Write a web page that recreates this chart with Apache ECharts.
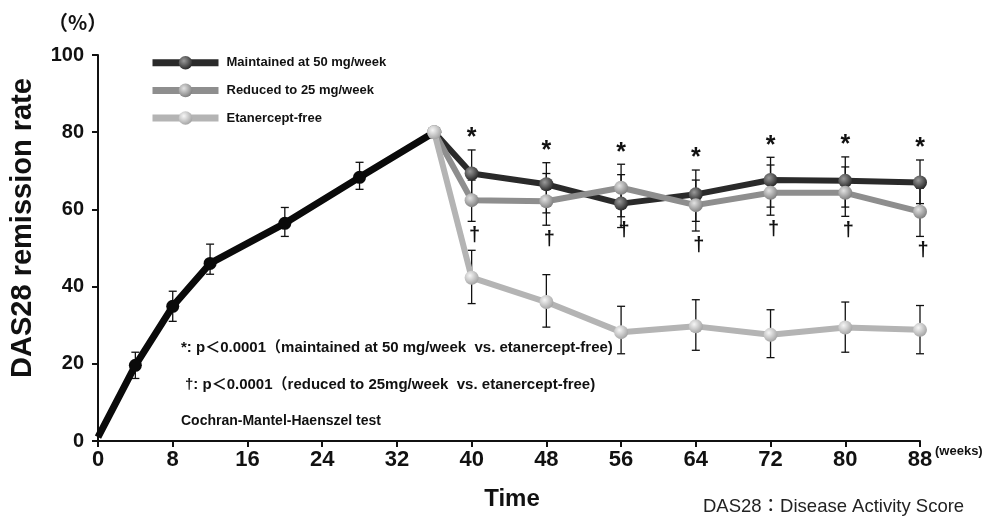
<!DOCTYPE html>
<html>
<head>
<meta charset="UTF-8">
<title>DAS28 remission rate</title>
<script src="https://cdn.jsdelivr.net/npm/echarts@6/dist/echarts.min.js"></script>
<style>
  html, body { margin: 0; padding: 0; background: #fff; }
  #chart { width: 992px; height: 517px; }
</style>
</head>
<body>
<div id="chart"></div>
<script>
// run-in phase (all patients on 50 mg/week)
var baseWeeks = [0, 4, 8, 12, 20, 28, 36];
var baseRate  = [1, 19.6, 34.9, 46, 56.4, 68.3, 80];
var baseLow   = [null, 16.2, 31, 43.2, 53, 65.2, null];
var baseHigh  = [null, 23, 38.8, 51, 60.5, 72.2, null];

// randomised phase
var weeks = [36, 40, 48, 56, 64, 72, 80, 88];
var maintained     = [80, 69.3, 66.5, 61.5, 63.9, 67.6, 67.4, 67];
var maintainedLow  = [null, 63.5, 59.1, 55.3, 56.9, 60.6, 60.6, 61.5];
var maintainedHigh = [null, 75.4, 72.1, 69.0, 70.2, 73.5, 73.6, 72.8];
var reduced        = [80, 62.4, 62.1, 65.6, 61.1, 64.3, 64.3, 59.4];
var reducedLow     = [null, 56.9, 55.9, 58.1, 54.4, 58.5, 58.2, 53];
var reducedHigh    = [null, 67.6, 69.3, 71.7, 67.6, 71.5, 71.0, 65.5];
var etaFree        = [80, 42.3, 36, 28.2, 29.7, 27.5, 29.4, 28.8];
var etaFreeLow     = [null, 35.6, 29.5, 22.6, 23.5, 21.6, 23, 22.6];
var etaFreeHigh    = [null, 49.4, 43.1, 34.9, 36.6, 34, 36, 35.1];

var seriesNames = ['Maintained at 50 mg/week', 'Reduced to 25 mg/week', 'Etanercept-free'];
var xTicks = [0, 8, 16, 24, 32, 40, 48, 56, 64, 72, 80, 88];
var yTicks = [0, 20, 40, 60, 80, 100];

var SANS = "'Liberation Sans', Arial, sans-serif";
var MIXED = "'Liberation Sans', 'Noto Sans CJK JP', sans-serif";

function pairs(xs, ys) {
  return xs.map(function (x, i) { return [x, ys[i]]; });
}
function errData(xs, lo, hi) {
  var out = [];
  xs.forEach(function (x, i) {
    if (lo[i] != null && hi[i] != null) out.push([x, lo[i], hi[i]]);
  });
  return out;
}
function sphere(light, dark) {
  return {
    type: 'radial', x: 0.38, y: 0.35, r: 0.7,
    colorStops: [{ offset: 0, color: light }, { offset: 1, color: dark }]
  };
}

var allErr = errData(baseWeeks, baseLow, baseHigh)
  .concat(errData(weeks, maintainedLow, maintainedHigh))
  .concat(errData(weeks, reducedLow, reducedHigh))
  .concat(errData(weeks, etaFreeLow, etaFreeHigh));

// significance marks: * above the top bar, dagger under the reduced bar
var starData = [], daggerData = [];
for (var i = 1; i < weeks.length; i++) {
  starData.push([weeks[i], Math.max(maintainedHigh[i], reducedHigh[i])]);
  daggerData.push([weeks[i], reducedLow[i]]);
}

// week 0 has no marker, the line just starts there
var baseData = pairs(baseWeeks, baseRate).map(function (p, i) {
  return i === 0 ? { value: p, symbol: 'none' } : p;
});

var chart = echarts.init(document.getElementById('chart'));

chart.setOption({
  animation: false,
  grid: { left: 98, right: 72, top: 55, bottom: 76 },
  legend: {
    data: seriesNames,
    orient: 'vertical',
    left: 149, top: 56, padding: 0,
    itemWidth: 66, itemHeight: 17, itemGap: 14,
    lineStyle: { width: 7 },
    textStyle: { fontFamily: SANS, fontWeight: 'bold', fontSize: 13, color: '#111', padding: [0, 0, 0, 3] }
  },
  xAxis: {
    type: 'value', min: 0, max: 88, interval: 8,
    splitLine: { show: false },
    axisLine: { lineStyle: { color: '#111', width: 2 } },
    axisTick: { length: 6, lineStyle: { color: '#111', width: 2 } },
    axisLabel: { margin: 8, color: '#111', fontFamily: SANS, fontWeight: 'bold', fontSize: 22,
      formatter: function (v) { return xTicks.indexOf(v) >= 0 ? String(v) : ''; } }
  },
  yAxis: {
    type: 'value', min: 0, max: 100, interval: 20,
    splitLine: { show: false },
    axisLine: { show: true, lineStyle: { color: '#111', width: 2 } },
    axisTick: { show: true, length: 6, lineStyle: { color: '#111', width: 2 } },
    axisLabel: { margin: 14, color: '#111', fontFamily: SANS, fontWeight: 'bold', fontSize: 20,
      formatter: function (v) { return yTicks.indexOf(v) >= 0 ? String(v) : ''; } }
  },
  graphic: [
    { type: 'text', left: 48, top: 12, style: { text: '（%）', font: "bold 20px 'Noto Sans CJK JP', sans-serif", fill: '#111' } },
    { type: 'text', x: 23, y: 228, rotation: Math.PI / 2,
      style: { text: 'DAS28 remission rate', font: 'bold 29px ' + SANS, fill: '#111', align: 'center', verticalAlign: 'middle' } },
    { type: 'text', x: 512, y: 499,
      style: { text: 'Time', font: 'bold 24px ' + SANS, fill: '#111', align: 'center', verticalAlign: 'middle' } },
    { type: 'text', x: 935, y: 451,
      style: { text: '(weeks)', font: 'bold 13px ' + SANS, fill: '#111', align: 'left', verticalAlign: 'middle' } },
    { type: 'text', x: 703, y: 507,
      style: { text: 'DAS28：Disease Activity Score', font: '18.5px ' + MIXED, fill: '#222', align: 'left', verticalAlign: 'middle' } },
    { type: 'text', x: 181, y: 348,
      style: { text: '*: p＜0.0001（maintained at 50 mg/week  vs. etanercept-free)', font: 'bold 15px ' + MIXED, fill: '#111', align: 'left', verticalAlign: 'middle' } },
    { type: 'text', x: 185, y: 385,
      style: { text: '†: p＜0.0001（reduced to 25mg/week  vs. etanercept-free)', font: 'bold 15px ' + MIXED, fill: '#111', align: 'left', verticalAlign: 'middle' } },
    { type: 'text', x: 181, y: 421,
      style: { text: 'Cochran-Mantel-Haenszel test', font: 'bold 14px ' + SANS, fill: '#111', align: 'left', verticalAlign: 'middle' } }
  ],
  series: [
    {
      type: 'custom', name: 'err', z: 1,
      data: allErr,
      renderItem: function (params, api) {
        var x = api.value(0);
        var lo = api.coord([x, api.value(1)]);
        var hi = api.coord([x, api.value(2)]);
        var w = 4;
        var st = { stroke: '#111', lineWidth: 1.3 };
        return { type: 'group', children: [
          { type: 'line', shape: { x1: lo[0], y1: lo[1], x2: hi[0], y2: hi[1] }, style: st },
          { type: 'line', shape: { x1: lo[0] - w, y1: lo[1], x2: lo[0] + w, y2: lo[1] }, style: st },
          { type: 'line', shape: { x1: hi[0] - w, y1: hi[1], x2: hi[0] + w, y2: hi[1] }, style: st }
        ] };
      }
    },
    {
      type: 'line', name: 'baseline', z: 2,
      data: baseData,
      symbol: 'circle', symbolSize: 13,
      lineStyle: { color: '#0a0a0a', width: 7 },
      itemStyle: { color: '#0a0a0a' }
    },
    {
      type: 'line', name: seriesNames[0], z: 3,
      data: pairs(weeks, maintained),
      symbol: 'circle', symbolSize: 14,
      lineStyle: { color: '#2a2a2a', width: 6 },
      itemStyle: { color: sphere('#9a9a9a', '#222') }
    },
    {
      type: 'line', name: seriesNames[1], z: 4,
      data: pairs(weeks, reduced),
      symbol: 'circle', symbolSize: 14,
      lineStyle: { color: '#8e8e8e', width: 6 },
      itemStyle: { color: sphere('#e2e2e2', '#7a7a7a') }
    },
    {
      type: 'line', name: seriesNames[2], z: 5,
      data: pairs(weeks, etaFree),
      symbol: 'circle', symbolSize: 14,
      lineStyle: { color: '#b4b4b4', width: 6 },
      itemStyle: { color: sphere('#f6f6f6', '#a0a0a0') }
    },
    {
      type: 'custom', name: 'star', z: 6,
      data: starData,
      renderItem: function (params, api) {
        var p = api.coord([api.value(0), api.value(1)]);
        return { type: 'text', style: { text: '*', x: p[0], y: p[1] + 1, align: 'center', verticalAlign: 'bottom',
          font: 'bold 25px ' + SANS, fill: '#111' } };
      }
    },
    {
      type: 'custom', name: 'dagger', z: 6,
      data: daggerData,
      renderItem: function (params, api) {
        var p = api.coord([api.value(0), api.value(1)]);
        return { type: 'text', style: { text: '†', x: p[0] + 3, y: p[1] + 4, align: 'center', verticalAlign: 'top',
          font: 'bold 20px ' + SANS, fill: '#111' } };
      }
    }
  ]
});
</script>
</body>
</html>
